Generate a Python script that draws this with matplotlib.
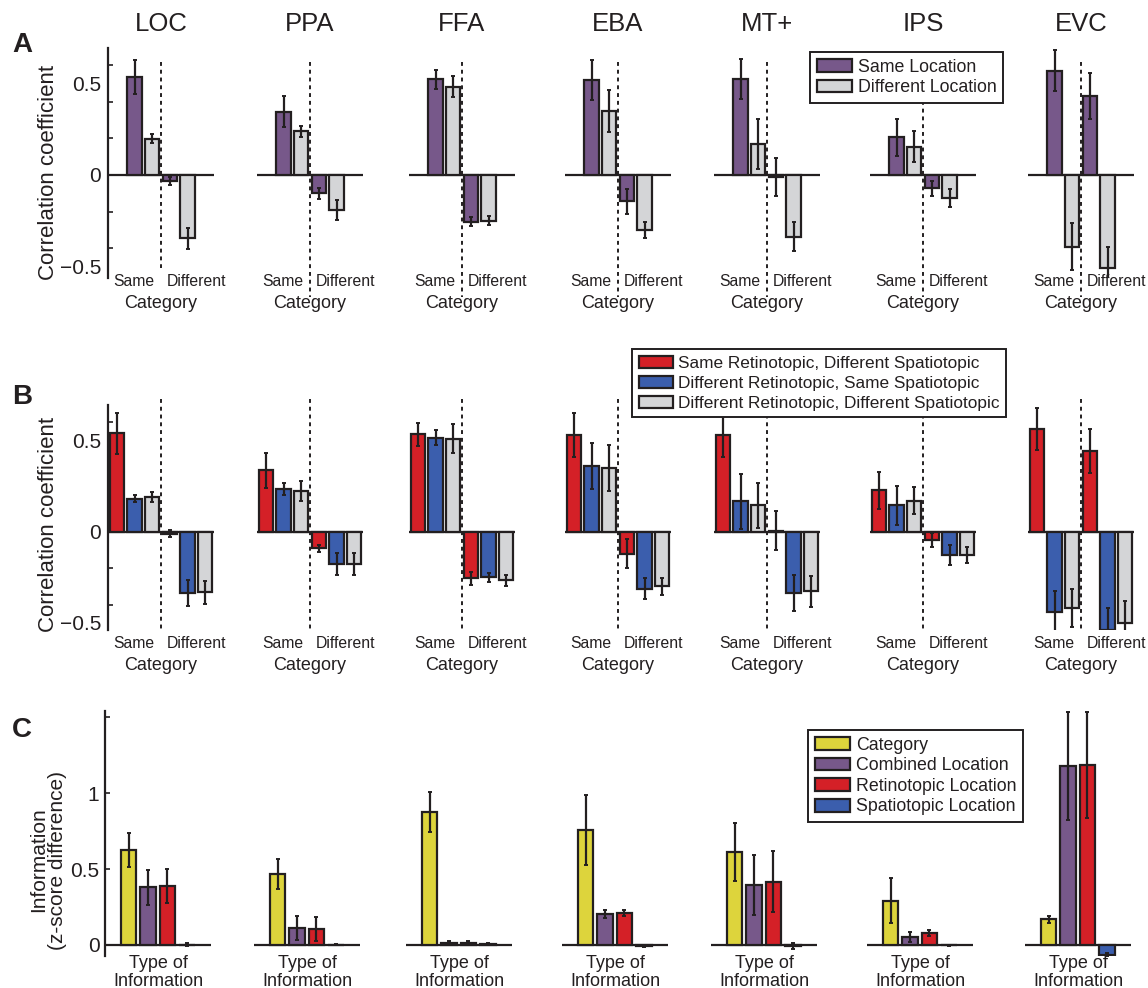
import matplotlib
matplotlib.use('Agg')
import matplotlib.pyplot as plt
import matplotlib.transforms as mtrans
from matplotlib.patches import Patch

plt.rcParams['font.family'] = ['Liberation Sans', 'DejaVu Sans']

W, H = 1148, 988

regions = ['LOC', 'PPA', 'FFA', 'EBA', 'MT+', 'IPS', 'EVC']

# ---------- Panel A (same category / different category) ----------
A_sameloc_samecat = [0.535, 0.346, 0.523, 0.519, 0.525, 0.206, 0.570]
A_sameloc_samecat_err = [0.093, 0.085, 0.052, 0.109, 0.108, 0.100, 0.112]
A_diffloc_samecat = [0.198, 0.240, 0.483, 0.351, 0.168, 0.155, -0.392]
A_diffloc_samecat_err = [0.025, 0.030, 0.056, 0.116, 0.138, 0.086, 0.130]
A_sameloc_diffcat = [-0.033, -0.100, -0.255, -0.144, -0.010, -0.073, 0.432]
A_sameloc_diffcat_err = [0.022, 0.030, 0.026, 0.070, 0.103, 0.040, 0.125]
A_diffloc_diffcat = [-0.346, -0.191, -0.251, -0.300, -0.337, -0.124, -0.510]
A_diffloc_diffcat_err = [0.056, 0.055, 0.025, 0.045, 0.080, 0.050, 0.118]
A_labels = ['Same Location', 'Different Location']

# ---------- Panel B ----------
B_retino_samecat = [0.540, 0.337, 0.534, 0.530, 0.529, 0.227, 0.566]
B_retino_samecat_err = [0.113, 0.095, 0.064, 0.120, 0.120, 0.100, 0.115]
B_spatio_samecat = [0.182, 0.234, 0.517, 0.360, 0.166, 0.144, -0.442]
B_spatio_samecat_err = [0.021, 0.035, 0.042, 0.125, 0.150, 0.105, 0.115]
B_neither_samecat = [0.190, 0.221, 0.511, 0.350, 0.144, 0.170, -0.420]
B_neither_samecat_err = [0.028, 0.055, 0.080, 0.125, 0.126, 0.075, 0.103]
B_retino_diffcat = [-0.010, -0.092, -0.256, -0.120, 0.005, -0.046, 0.442]
B_retino_diffcat_err = [0.020, 0.017, 0.035, 0.080, 0.108, 0.040, 0.120]
B_spatio_diffcat = [-0.337, -0.178, -0.250, -0.313, -0.337, -0.129, -0.540]
B_spatio_diffcat_err = [0.071, 0.060, 0.025, 0.058, 0.098, 0.056, 0.120]
B_neither_diffcat = [-0.333, -0.178, -0.267, -0.300, -0.328, -0.130, -0.500]
B_neither_diffcat_err = [0.063, 0.060, 0.030, 0.046, 0.086, 0.044, 0.120]
B_labels = ['Same Retinotopic, Different Spatiotopic',
            'Different Retinotopic, Same Spatiotopic',
            'Different Retinotopic, Different Spatiotopic']

# ---------- Panel C ----------
C_category = [0.626, 0.466, 0.877, 0.758, 0.615, 0.292, 0.169]
C_category_err = [0.114, 0.100, 0.130, 0.230, 0.190, 0.150, 0.025]
C_combined = [0.380, 0.110, 0.015, 0.204, 0.395, 0.055, 1.180]
C_combined_err = [0.115, 0.080, 0.010, 0.025, 0.195, 0.033, 0.355]
C_retino = [0.389, 0.105, 0.015, 0.210, 0.418, 0.081, 1.189]
C_retino_err = [0.115, 0.080, 0.010, 0.020, 0.200, 0.020, 0.350]
C_spatio = [0.003, 0.003, 0.008, -0.005, -0.005, -0.003, -0.066]
C_spatio_err = [0.008, 0.004, 0.006, 0.008, 0.020, 0.004, 0.015]
C_labels = ['Category', 'Combined Location', 'Retinotopic Location', 'Spatiotopic Location']

# ---------- style ----------
PURPLE = '#77588A'
GRAY = '#D4D5D7'
RED = '#D42027'
BLUE = '#3B5EAD'
YELLOW = '#DDD43C'
DARK = '#231F20'

lefts = [108, 257, 409, 565, 714, 870, 1028]
AX_W = 106

fig = plt.figure(figsize=(W / 100, H / 100), dpi=100)


def add_ax(left, top, bottom, width=AX_W):
    return fig.add_axes([left / W, 1 - bottom / H, width / W, (bottom - top) / H])


def style_ax(ax, first):
    for s in ['top', 'right', 'bottom']:
        ax.spines[s].set_visible(False)
    ax.set_xticks([])
    if first:
        ax.spines['left'].set_linewidth(1.6)
        ax.spines['left'].set_color(DARK)
    else:
        ax.spines['left'].set_visible(False)
        ax.set_yticks([])
    ax.patch.set_alpha(0)


def bars(ax, xs, vals, errs, colors, width):
    ax.bar(xs, vals, width=width, color=colors, edgecolor=DARK, linewidth=1.6, zorder=3)
    ax.errorbar(xs, vals, yerr=errs, fmt='none', ecolor=DARK, elinewidth=1.6,
                capsize=1.6, capthick=1.4, zorder=4)


def lbl_trans(ax):
    return mtrans.blended_transform_factory(ax.transData, fig.transFigure)


def fy(y):
    return 1 - y / H


def y_axis_corr(ax):
    ax.set_yticks([-0.5, 0, 0.5], ['\u22120.5', '0', '0.5'])
    ax.set_yticks([-0.4, -0.2, 0, 0.2, 0.4, 0.6], minor=True)
    ax.tick_params(axis='y', which='major', length=0, pad=5, labelsize=15, labelcolor=DARK)
    ax.tick_params(axis='y', which='minor', direction='in', length=3.5, width=1.2, color=DARK)


# Panel A
A_ylim = (-0.563, 0.694)
for i, r in enumerate(regions):
    ax = add_ax(lefts[i], 48, 278)
    ax.set_xlim(-0.5, 5.5)
    ax.set_ylim(*A_ylim)
    style_ax(ax, i == 0)
    ax.axhline(0, color=DARK, lw=1.6, zorder=2)
    vals = [A_sameloc_samecat[i], A_diffloc_samecat[i], A_sameloc_diffcat[i], A_diffloc_diffcat[i]]
    errs = [A_sameloc_samecat_err[i], A_diffloc_samecat_err[i], A_sameloc_diffcat_err[i], A_diffloc_diffcat_err[i]]
    bars(ax, [1, 2, 3, 4], vals, errs, [PURPLE, GRAY, PURPLE, GRAY], 0.82)
    ybot = -0.51 if i == 0 else -0.667
    ax.plot([2.5, 2.5], [0.617, ybot], color=DARK, lw=1.4, ls=(0, (2, 2)), zorder=5, clip_on=False)
    t = lbl_trans(ax)
    ax.text(2.5 - 0.35, fy(281), 'Same', transform=t, ha='right', va='center', fontsize=11.3, color=DARK)
    ax.text(2.5 + 0.35, fy(281), 'Different', transform=t, ha='left', va='center', fontsize=11.3, color=DARK)
    ax.text(2.5, fy(303), 'Category', transform=t, ha='center', va='center', fontsize=13, color=DARK)
    fig.text((lefts[i] + AX_W / 2) / W, fy(24), r, ha='center', va='center', fontsize=18.5, color=DARK)
    if i == 0:
        y_axis_corr(ax)

# Panel B
B_ylim = (-0.54, 0.696)
for i, r in enumerate(regions):
    ax = add_ax(lefts[i], 405, 630)
    ax.set_xlim(-0.5, 5.5)
    ax.set_ylim(*B_ylim)
    style_ax(ax, i == 0)
    ax.axhline(0, color=DARK, lw=1.6, zorder=2)
    vals = [B_retino_samecat[i], B_spatio_samecat[i], B_neither_samecat[i],
            B_retino_diffcat[i], B_spatio_diffcat[i], B_neither_diffcat[i]]
    errs = [B_retino_samecat_err[i], B_spatio_samecat_err[i], B_neither_samecat_err[i],
            B_retino_diffcat_err[i], B_spatio_diffcat_err[i], B_neither_diffcat_err[i]]
    bars(ax, [0, 1, 2, 3, 4, 5], vals, errs, [RED, BLUE, GRAY, RED, BLUE, GRAY], 0.82)
    ax.plot([2.5, 2.5], [0.727, -0.545], color=DARK, lw=1.4, ls=(0, (2, 2)), zorder=5, clip_on=False)
    t = lbl_trans(ax)
    ax.text(2.5 - 0.35, fy(643), 'Same', transform=t, ha='right', va='center', fontsize=11.3, color=DARK)
    ax.text(2.5 + 0.35, fy(643), 'Different', transform=t, ha='left', va='center', fontsize=11.3, color=DARK)
    ax.text(2.5, fy(665), 'Category', transform=t, ha='center', va='center', fontsize=13, color=DARK)
    if i == 0:
        y_axis_corr(ax)

# Panel C
C_ylim = (-0.07, 1.54)
for i, r in enumerate(regions):
    ax = add_ax(lefts[i] - 3, 711.4, 955.6)
    ax.set_xlim(-1.22, 4.25)
    ax.set_ylim(*C_ylim)
    style_ax(ax, i == 0)
    ax.axhline(0, color=DARK, lw=1.6, zorder=2)
    vals = [C_category[i], C_combined[i], C_retino[i], C_spatio[i]]
    errs = [C_category_err[i], C_combined_err[i], C_retino_err[i], C_spatio_err[i]]
    bars(ax, [0, 1, 2, 3], vals, errs, [YELLOW, PURPLE, RED, BLUE], 0.8)
    xc = (lefts[i] - 3 + AX_W / 2) / W
    fig.text(xc, fy(963), 'Type of', ha='center', va='center', fontsize=13, color=DARK)
    fig.text(xc, fy(981), 'Information', ha='center', va='center', fontsize=13, color=DARK)
    if i == 0:
        ax.set_yticks([0, 0.5, 1, 1.5], ['0', '0.5', '1', ''])
        ax.tick_params(axis='y', which='major', direction='in', length=3.5, width=1.2,
                       color=DARK, pad=4, labelsize=15, labelcolor=DARK)

# y labels and panel letters
fig.text(48 / W, fy(172), 'Correlation coefficient', rotation=90, ha='center', va='center',
         fontsize=16, color=DARK)
fig.text(48 / W, fy(524), 'Correlation coefficient', rotation=90, ha='center', va='center',
         fontsize=16, color=DARK)
fig.text(48 / W, fy(860), 'Information\n(z-score difference)', rotation=90, ha='center',
         va='center', fontsize=15, color=DARK, linespacing=1.0)
for letter, y in [('A', 45), ('B', 397), ('C', 730)]:
    fig.text(22 / W, fy(y), letter, ha='center', va='center', fontsize=20,
             fontweight='bold', color=DARK)


def legend(labels, colors, x0, y0, fs=12.8, ls=0.2):
    handles = [Patch(facecolor=c, edgecolor=DARK, linewidth=1.6) for c in colors]
    lg = fig.legend(handles, labels, loc='upper left', bbox_to_anchor=(x0 / W, fy(y0)),
                    borderaxespad=0, fancybox=False, framealpha=1, edgecolor=DARK,
                    fontsize=fs, handlelength=2.0, handleheight=0.72, handletextpad=0.3,
                    labelspacing=ls, borderpad=0.38)
    lg.get_frame().set_linewidth(1.4)
    for txt in lg.get_texts():
        txt.set_color(DARK)
    return lg


legend(A_labels, [PURPLE, GRAY], 810, 52)
legend(B_labels, [RED, BLUE, GRAY], 632, 349, fs=12.4, ls=0.28)
legend(C_labels, [YELLOW, PURPLE, RED, BLUE], 808, 730)

fig.savefig('out.png', dpi=100)
